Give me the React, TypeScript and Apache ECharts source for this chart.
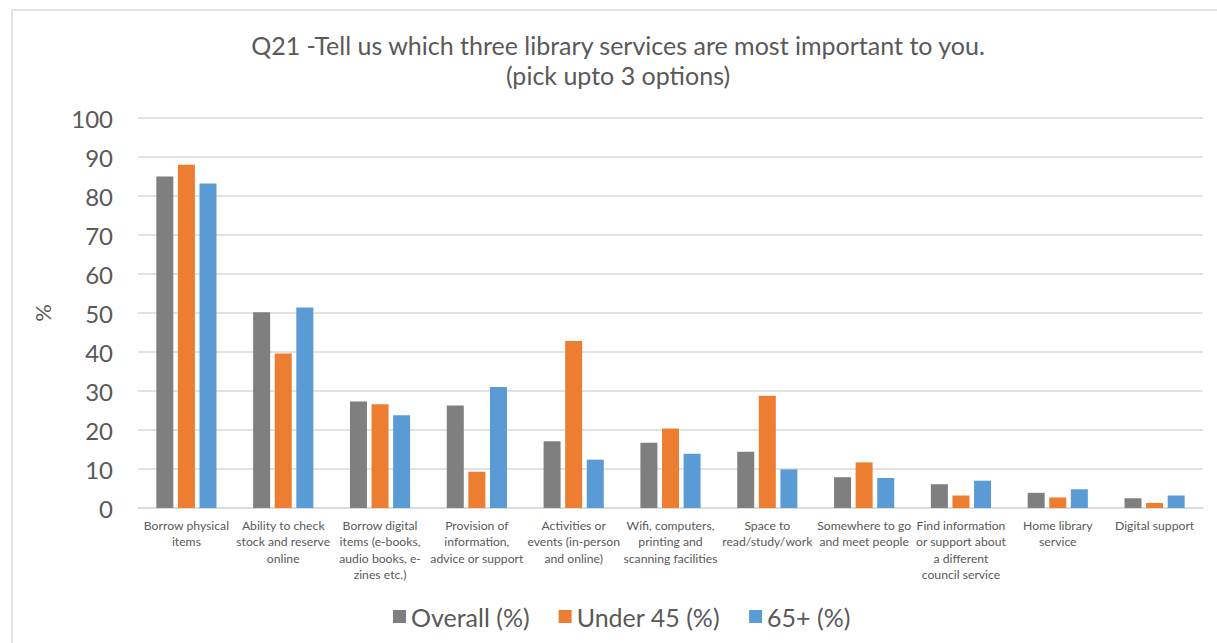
import React, { useEffect, useRef } from "react";
import * as echarts from "echarts";

const categories = [
  "Borrow physical\nitems",
  "Ability to check\nstock and reserve\nonline",
  "Borrow digital\nitems (e-books,\naudio books, e-\nzines etc.)",
  "Provision of\ninformation,\nadvice or support",
  "Activities or\nevents (in-person\nand online)",
  "Wifi, computers,\nprinting and\nscanning facilities",
  "Space to\nread/study/work",
  "Somewhere to go\nand meet people",
  "Find information\nor support about\na different\ncouncil service",
  "Home library\nservice",
  "Digital support",
];

const overall = [85, 50.2, 27.3, 26.3, 17.1, 16.7, 14.4, 7.9, 6.1, 3.9, 2.5];
const under45 = [88, 39.6, 26.6, 9.3, 42.8, 20.4, 28.8, 11.7, 3.2, 2.7, 1.3];
const over65 = [83.2, 51.4, 23.8, 31.0, 12.4, 13.9, 9.9, 7.7, 7.0, 4.8, 3.2];

const seriesNames = ["Overall (%)", "Under 45 (%)", "65+ (%)"];
const colors = ["#7f7f7f", "#ed7d31", "#5b9bd5"];

const titleLine1 = "Q21 -Tell us which three library services are most important to you.";
const titleLine2 = "(pick upto 3 options)";

const FONT = "Lato, 'Open Sans', sans-serif";
const TXT = "#595959";

export default function App() {
  const ref = useRef<HTMLDivElement>(null);
  useEffect(() => {
    if (!ref.current) return;
    const chart = echarts.init(ref.current, null, { renderer: "svg" });
    const data = [overall, under45, over65];
    chart.setOption({
      animation: false,
      textStyle: { fontFamily: FONT },
      graphic: [
        {
          type: "polyline",
          shape: { points: [[12, 643], [12, 10], [1217, 10]] },
          style: { stroke: "#d9d9d9", lineWidth: 1.5, fill: null },
        },
        {
          type: "text",
          style: {
            text: titleLine1,
            x: 618,
            y: 45,
            textAlign: "center",
            textVerticalAlign: "middle",
            fontSize: 25,
            fontFamily: FONT,
            fill: TXT,
          },
        },
        {
          type: "text",
          style: {
            text: titleLine2,
            x: 618,
            y: 75,
            textAlign: "center",
            textVerticalAlign: "middle",
            fontSize: 25,
            fontFamily: FONT,
            fill: TXT,
          },
        },
      ],
      legend: {
        data: seriesNames,
        left: 388,
        top: 599,
        itemWidth: 13,
        itemHeight: 13,
        itemGap: 29,
        icon: "rect",
        textStyle: { fontSize: 25, color: TXT, fontFamily: FONT },
      },
      grid: { left: 138, right: 14, top: 118, bottom: 135 },
      xAxis: {
        type: "category",
        data: categories,
        axisLine: { lineStyle: { color: "#d9d9d9", width: 1.5 } },
        axisTick: { show: false },
        axisLabel: {
          interval: 0,
          fontSize: 12.2,
          lineHeight: 16.5,
          color: TXT,
          margin: 9,
          fontFamily: FONT,
        },
      },
      yAxis: {
        type: "value",
        min: 0,
        max: 100,
        interval: 10,
        name: "%",
        nameLocation: "middle",
        nameRotate: 90,
        nameGap: 85,
        nameTextStyle: { fontSize: 22, color: TXT, fontFamily: FONT },
        axisLine: { show: false },
        axisTick: { show: false },
        axisLabel: { fontSize: 24, color: TXT, margin: 25, fontFamily: FONT },
        splitLine: { lineStyle: { color: "#d9d9d9", width: 1.5 } },
      },
      series: seriesNames.map((name, i) => ({
        name,
        type: "bar",
        data: data[i],
        barWidth: 17,
        barGap: "27%",
        itemStyle: { color: colors[i] },
      })),
    });
    return () => chart.dispose();
  }, []);
  return (
    <div
      ref={ref}
      style={{ position: "fixed", left: 0, top: 0, width: 1217, height: 643, background: "#fff" }}
    />
  );
}
